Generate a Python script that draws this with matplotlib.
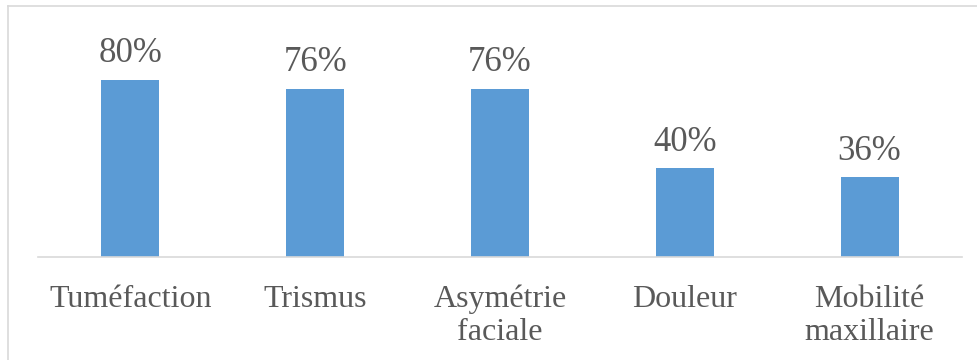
import matplotlib.pyplot as plt
from matplotlib.lines import Line2D

# données
categories = ["Tuméfaction", "Trismus", "Asymétrie\nfaciale", "Douleur", "Mobilité\nmaxillaire"]
valeurs = [80, 76, 76, 40, 36]
etiquettes = ["80%", "76%", "76%", "40%", "36%"]

W, H = 978, 360
fig = plt.figure(figsize=(W / 100, H / 100), dpi=100)

# axes en pixels : x 38..962, y 20..257 (bas)
ax = fig.add_axes([38 / W, (H - 257) / H, 924 / W, 237 / H])

barres = ax.bar(range(len(categories)), valeurs, width=0.314, color="#5B9BD5")
ax.set_xlim(-0.5, len(categories) - 0.5)
ax.set_ylim(0, 107.1)

ax.bar_label(barres, labels=etiquettes, padding=7, fontsize=25,
             color="#595959", family="Liberation Serif")

ax.set_xticks(range(len(categories)))
ax.set_xticklabels(categories, fontsize=23, color="#595959",
                   family="Liberation Serif", linespacing=1.17)
ax.tick_params(axis="x", length=0, pad=20)
ax.set_yticks([])

for s in ["top", "right", "left"]:
    ax.spines[s].set_visible(False)
ax.spines["bottom"].set_color("#D9D9D9")
ax.spines["bottom"].set_linewidth(1.2)

# cadre du graphique (haut et gauche seulement visibles)
fig.add_artist(Line2D([8 / W, 1], [1 - 6 / H, 1 - 6 / H], color="#D9D9D9", lw=1.2))
fig.add_artist(Line2D([8 / W, 8 / W], [0, 1 - 6 / H], color="#D9D9D9", lw=1.2))

plt.savefig("out.png", dpi=100)
